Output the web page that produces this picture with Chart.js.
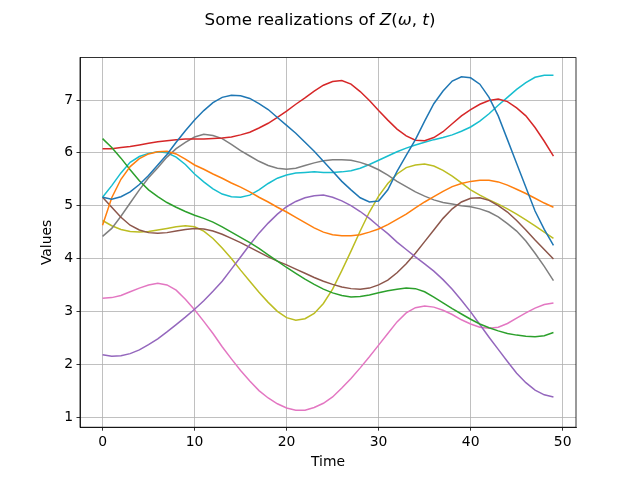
<!DOCTYPE html>
<html lang="en">

<head>
    <meta charset="UTF-8" />
    <title>Some realizations of Z(w,t)</title>
    <style>
        body {
            margin: 0;
            background: #fff;
        }

        #wrapper {
            width: 640px;
            height: 480px;
        }
    </style>
</head>

<body>
    <div id="wrapper">
        <canvas id="chart" width="640" height="480"></canvas>
    </div>

    <script src="https://cdn.jsdelivr.net/npm/chart.js@4.4.1/dist/chart.umd.min.js"></script>
    <script>
        // time steps
        const time = [0, 1, 2, 3, 4, 5, 6, 7, 8, 9, 10, 11, 12, 13, 14, 15, 16, 17, 18, 19,
            20, 21, 22, 23, 24, 25, 26, 27, 28, 29, 30, 31, 32, 33, 34, 35, 36, 37, 38, 39,
            40, 41, 42, 43, 44, 45, 46, 47, 48, 49];

        // ten realizations
        const z0 = [5.16, 5.12, 5.17, 5.26, 5.40, 5.57, 5.77, 5.97, 6.20, 6.42, 6.62, 6.80, 6.95, 7.05, 7.09, 7.08, 7.03, 6.93, 6.82, 6.67,
            6.52, 6.37, 6.20, 6.03, 5.84, 5.65, 5.46, 5.30, 5.15, 5.07, 5.09, 5.30, 5.65, 5.95, 6.25, 6.60, 6.93, 7.17, 7.36, 7.44,
            7.42, 7.30, 7.05, 6.70, 6.25, 5.80, 5.35, 4.90, 4.55, 4.25];
        const z1 = [4.63, 5.15, 5.50, 5.74, 5.89, 5.98, 6.02, 6.03, 5.98, 5.88, 5.77, 5.69, 5.60, 5.52, 5.43, 5.35, 5.26, 5.16, 5.07, 4.97,
            4.88, 4.78, 4.68, 4.58, 4.50, 4.45, 4.43, 4.43, 4.45, 4.50, 4.56, 4.64, 4.74, 4.84, 4.96, 5.07, 5.17, 5.27, 5.36, 5.42,
            5.46, 5.48, 5.48, 5.45, 5.39, 5.31, 5.23, 5.14, 5.05, 4.97];
        const z2 = [6.27, 6.10, 5.90, 5.68, 5.47, 5.30, 5.17, 5.06, 4.97, 4.89, 4.82, 4.76, 4.69, 4.60, 4.50, 4.40, 4.30, 4.19, 4.07, 3.95,
            3.83, 3.72, 3.61, 3.51, 3.42, 3.35, 3.30, 3.27, 3.28, 3.31, 3.35, 3.39, 3.42, 3.44, 3.43, 3.37, 3.27, 3.16, 3.05, 2.95,
            2.85, 2.76, 2.69, 2.63, 2.58, 2.55, 2.53, 2.52, 2.54, 2.60];
        const z3 = [6.08, 6.08, 6.10, 6.12, 6.15, 6.18, 6.21, 6.23, 6.25, 6.26, 6.26, 6.26, 6.27, 6.28, 6.30, 6.34, 6.39, 6.47, 6.56, 6.67,
            6.79, 6.92, 7.04, 7.17, 7.28, 7.35, 7.37, 7.30, 7.16, 6.99, 6.80, 6.62, 6.45, 6.32, 6.24, 6.23, 6.29, 6.40, 6.55, 6.70,
            6.82, 6.92, 6.99, 7.02, 6.97, 6.85, 6.70, 6.48, 6.22, 5.94];
        const z4 = [2.18, 2.15, 2.16, 2.20, 2.27, 2.37, 2.48, 2.61, 2.75, 2.89, 3.04, 3.20, 3.38, 3.57, 3.80, 4.03, 4.26, 4.48, 4.67, 4.84,
            4.98, 5.08, 5.15, 5.19, 5.20, 5.16, 5.09, 5.00, 4.89, 4.76, 4.61, 4.47, 4.31, 4.17, 4.03, 3.90, 3.76, 3.60, 3.42, 3.21,
            2.99, 2.75, 2.51, 2.28, 2.05, 1.83, 1.65, 1.51, 1.42, 1.38];
        const z5 = [5.16, 4.97, 4.78, 4.63, 4.54, 4.49, 4.48, 4.49, 4.52, 4.55, 4.57, 4.56, 4.52, 4.46, 4.38, 4.30, 4.21, 4.12, 4.03, 3.95,
            3.88, 3.80, 3.72, 3.64, 3.57, 3.51, 3.46, 3.43, 3.42, 3.44, 3.50, 3.59, 3.73, 3.90, 4.10, 4.32, 4.54, 4.76, 4.94, 5.07,
            5.14, 5.15, 5.10, 5.00, 4.88, 4.72, 4.54, 4.35, 4.17, 3.99];
        const z6 = [3.25, 3.26, 3.30, 3.37, 3.44, 3.50, 3.53, 3.50, 3.40, 3.23, 3.03, 2.81, 2.58, 2.33, 2.10, 1.88, 1.68, 1.50, 1.36, 1.25,
            1.17, 1.13, 1.13, 1.18, 1.26, 1.38, 1.55, 1.73, 1.93, 2.14, 2.36, 2.58, 2.80, 2.97, 3.07, 3.10, 3.08, 3.02, 2.94, 2.84,
            2.76, 2.70, 2.68, 2.70, 2.77, 2.87, 2.97, 3.06, 3.13, 3.16];
        const z7 = [4.42, 4.57, 4.80, 5.05, 5.30, 5.53, 5.72, 5.92, 6.08, 6.20, 6.30, 6.35, 6.33, 6.27, 6.16, 6.04, 5.94, 5.84, 5.76, 5.71,
            5.69, 5.71, 5.76, 5.81, 5.85, 5.87, 5.87, 5.86, 5.82, 5.76, 5.68, 5.58, 5.46, 5.36, 5.26, 5.18, 5.11, 5.06, 5.03, 5.00,
            4.98, 4.94, 4.88, 4.79, 4.66, 4.52, 4.33, 4.10, 3.85, 3.58];
        const z8 = [4.72, 4.62, 4.55, 4.51, 4.50, 4.51, 4.54, 4.57, 4.60, 4.62, 4.60, 4.52, 4.38, 4.20, 4.00, 3.78, 3.57, 3.36, 3.17, 3.00,
            2.88, 2.83, 2.86, 2.96, 3.15, 3.42, 3.77, 4.14, 4.52, 4.88, 5.18, 5.42, 5.60, 5.72, 5.77, 5.79, 5.75, 5.67, 5.56, 5.43,
            5.30, 5.20, 5.11, 5.03, 4.94, 4.84, 4.73, 4.62, 4.50, 4.38];
        const z9 = [5.16, 5.38, 5.62, 5.82, 5.93, 5.99, 6.02, 6.00, 5.92, 5.78, 5.60, 5.45, 5.32, 5.22, 5.17, 5.16, 5.20, 5.30, 5.42, 5.52,
            5.58, 5.62, 5.63, 5.64, 5.63, 5.63, 5.64, 5.66, 5.71, 5.78, 5.86, 5.94, 6.02, 6.09, 6.15, 6.20, 6.25, 6.29, 6.34, 6.41,
            6.49, 6.60, 6.74, 6.90, 7.05, 7.20, 7.33, 7.43, 7.47, 7.47];

        const xTicks = [0, 10, 20, 30, 40, 50];
        const yTicks = [1, 2, 3, 4, 5, 6, 7];

        const realizations = [z0, z1, z2, z3, z4, z5, z6, z7, z8, z9];
        const colors = ["#1f77b4", "#ff7f0e", "#2ca02c", "#d62728", "#9467bd",
            "#8c564b", "#e377c2", "#7f7f7f", "#bcbd22", "#17becf"];

        Chart.defaults.font.family = "'DejaVu Sans', sans-serif";
        Chart.defaults.font.size = 13.9;
        Chart.defaults.color = "#000";

        // top/right spines like matplotlib
        const frame = {
            id: "frame",
            afterDatasetsDraw(chart) {
                const { ctx, chartArea: a } = chart;
                ctx.save();
                ctx.strokeStyle = "#000";
                ctx.lineWidth = 0.8;
                ctx.strokeRect(a.left, a.top, a.right - a.left, a.bottom - a.top);
                ctx.restore();
            }
        };

        // title with math italics
        const mathTitle = {
            id: "mathTitle",
            afterDraw(chart) {
                const ctx = chart.ctx;
                const parts = [
                    ["Some realizations of ", false],
                    ["Z", true], ["(", false], ["\u03c9", true],
                    [", ", false], ["t", true], [")", false]
                ];
                const size = 16.7;
                const font = it => (it ? "oblique " : "") + size + "px 'DejaVu Sans', sans-serif";
                ctx.save();
                let total = 0;
                parts.forEach(p => {
                    ctx.font = font(p[1]);
                    total += ctx.measureText(p[0]).width;
                });
                let x = 320 - total / 2;
                ctx.fillStyle = "#000";
                ctx.textBaseline = "alphabetic";
                ctx.textAlign = "left";
                parts.forEach(p => {
                    ctx.font = font(p[1]);
                    ctx.fillText(p[0], x, 25);
                    x += ctx.measureText(p[0]).width;
                });
                ctx.restore();
            }
        };

        new Chart("chart", {
            type: "line",
            data: {
                datasets: realizations.map((vals, i) => ({
                    data: time.map((t, j) => ({ x: t, y: vals[j] })),
                    borderColor: colors[i],
                    borderWidth: 1.5,
                    pointRadius: 0,
                    tension: 0,
                    fill: false
                }))
            },
            options: {
                responsive: false,
                animation: false,
                devicePixelRatio: 1,
                layout: {
                    padding: { top: 57.6, right: 64, left: 0, bottom: 0 }
                },
                plugins: {
                    legend: { display: false },
                    tooltip: { enabled: false },
                    title: { display: false }
                },
                scales: {
                    x: {
                        type: "linear",
                        min: -2.45,
                        max: 51.45,
                        afterBuildTicks: s => { s.ticks = xTicks.map(v => ({ value: v })); },
                        afterFit: s => { s.height = 52.8; },
                        ticks: { padding: 3.5, maxRotation: 0 },
                        grid: { color: "#b0b0b0", lineWidth: 0.8, tickColor: "#000", tickWidth: 0.8, tickLength: 3.5 },
                        border: { color: "#000", width: 0.8 },
                        title: { display: true, text: "Time", padding: { top: 0, bottom: 9.7 } }
                    },
                    y: {
                        type: "linear",
                        min: 0.807,
                        max: 7.803,
                        afterBuildTicks: s => { s.ticks = yTicks.map(v => ({ value: v })); },
                        afterFit: s => { s.width = 80; },
                        ticks: { padding: 3.5 },
                        grid: { color: "#b0b0b0", lineWidth: 0.8, tickColor: "#000", tickWidth: 0.8, tickLength: 3.5 },
                        border: { color: "#000", width: 0.8 },
                        title: { display: true, text: "Values", padding: { top: 38.7, bottom: 0 } }
                    }
                }
            },
            plugins: [frame, mathTitle]
        });
    </script>
</body>

</html>
